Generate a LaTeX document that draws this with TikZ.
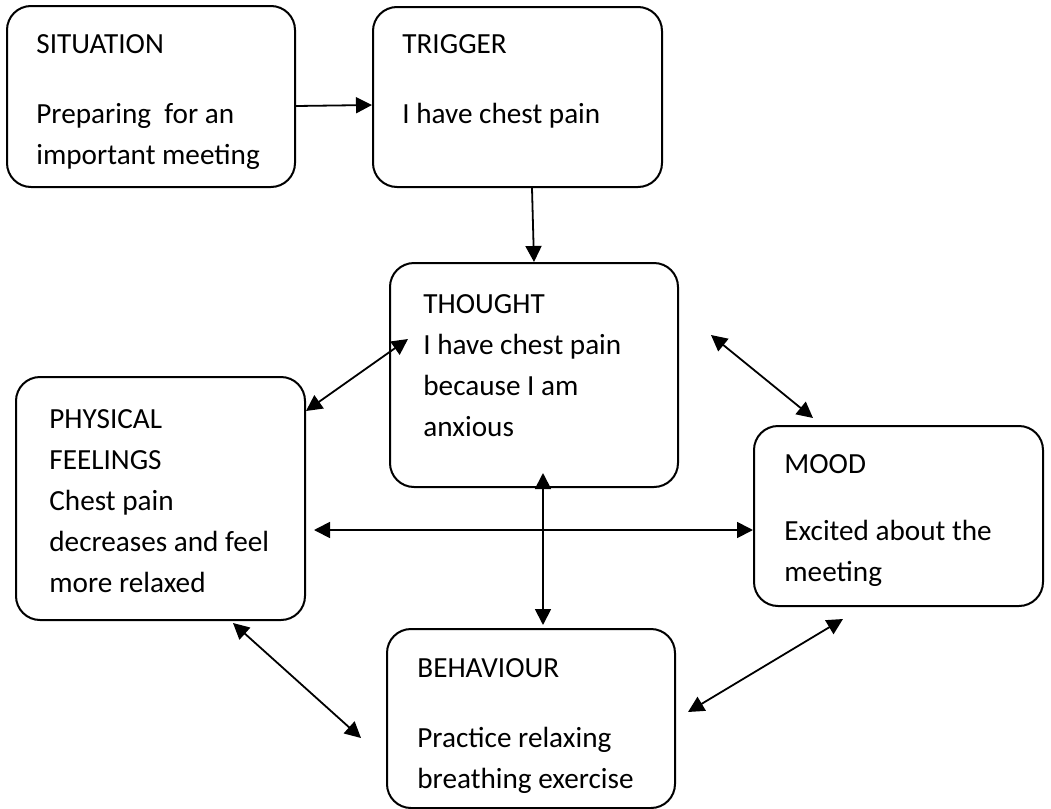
\documentclass[tikz,border=0pt]{standalone}
\usepackage{fontspec}
\setmainfont{Carlito}
\usetikzlibrary{arrows.meta}

\newcommand{\boxtext}[1]{\begin{tabular}[t]{@{}l@{}}#1\end{tabular}}

\begin{document}
\begin{tikzpicture}[
    x=0.5pt, y=-0.5pt,
    font=\fontsize{14.6}{20.5}\selectfont,
    >={Triangle[length=8pt,width=8pt]},
    card/.style={draw, line width=1pt, rounded corners=12pt, inner sep=0pt},
    words/.style={anchor=base west, inner sep=0pt},
    link/.style={->, line width=0.9pt},
    both/.style={<->, line width=0.9pt},
  ]
  \useasboundingbox (0,0) rectangle (1051,809);

  %% ---- boxes -------------------------------------------------------
  \node[card, minimum width=144pt,   minimum height=90.5pt]  (sit)     at (151,96.5)  {};
  \node[card, minimum width=144.5pt, minimum height=90pt]    (trig)    at (517.5,97)  {};
  \node[card, minimum width=144pt,   minimum height=112pt]   (thought) at (534,375)   {};
  \node[card, minimum width=144.5pt, minimum height=121.5pt] (phys)    at (160.5,498.5) {};
  \node[card, minimum width=144.5pt, minimum height=90pt]    (mood)    at (898.5,516) {};
  \node[card, minimum width=144pt,   minimum height=89.5pt]  (beh)     at (531,718.5) {};

  %% ---- box texts ---------------------------------------------------
  \node[words] (sitT) at (36,53)
  {\boxtext{SITUATION\\[14.5pt] Preparing~ for an\\ important meeting}};
  \node[words] (trigT) at (402,53)
  {\boxtext{TRIGGER\\[14.5pt] I have chest pain}};
  \node[words] (thoughtT) at (423,313)
  {\boxtext{THOUGHT\\ I have chest pain\\ because I am\\ anxious}};
  \node[words] (physT) at (49,428)
  {\boxtext{PHYSICAL\\ FEELINGS\\ Chest pain\\ decreases and feel\\ more relaxed}};
  \node[words] (moodT) at (784,473)
  {\boxtext{MOOD\\[13pt] Excited about the\\ meeting}};
  \node[words] (behT) at (417,677)
  {\boxtext{BEHAVIOUR\\[14.5pt] Practice relaxing\\ breathing exercise}};

  %% ---- free arrow ends ---------------------------------------------
  \coordinate (thL)   at (408,339);
  \coordinate (thR)   at (711,335);
  \coordinate (thB)   at (543,473);
  \coordinate (moodN) at (813,418);
  \coordinate (moodS) at (843,619);
  \coordinate (physE) at (314,530);
  \coordinate (physS) at (233,623);
  \coordinate (behN)  at (543,625);
  \coordinate (behW)  at (361,738);
  \coordinate (behE)  at (688,712);

  %% ---- one-way arrows ----------------------------------------------
  \draw[link] ([yshift=-4.75pt]sit.east) -- ([yshift=-4pt]trig.west);
  \draw[link] ([xshift=7.25pt]trig.south) -- (thought.north);

  %% ---- two-way arrows ----------------------------------------------
  \draw[both] (thL) -- ([yshift=43.75pt]phys.east);
  \draw[both] (thR) -- (moodN);
  \draw[both] (physE) -- ([yshift=-7pt]mood.west);
  \draw[both] (thB) -- (behN);
  \draw[both] (physS) -- (behW);
  \draw[both] (behE) -- (moodS);

\end{tikzpicture}
\end{document}
